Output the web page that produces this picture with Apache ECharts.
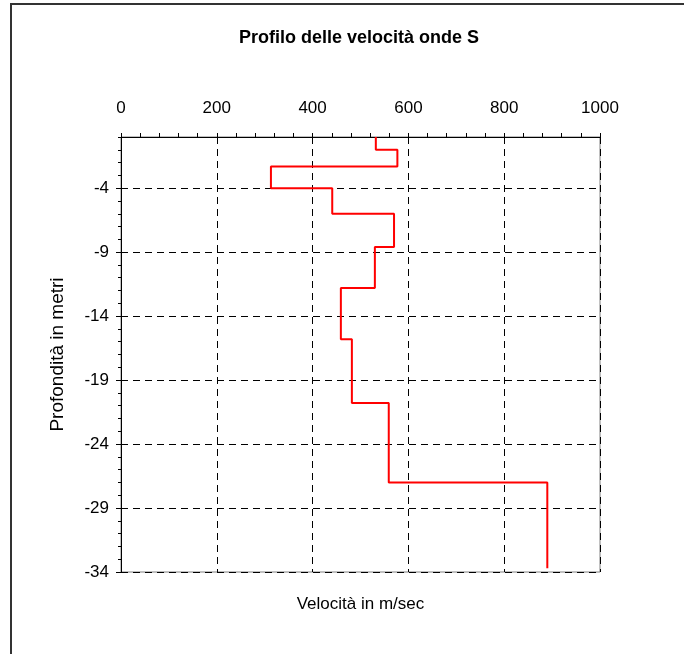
<!DOCTYPE html>
<html>
<head>
<meta charset="utf-8">
<script src="https://cdn.jsdelivr.net/npm/echarts@6/dist/echarts.min.js"></script>
<style>
  html, body { margin: 0; padding: 0; background: #fff; }
  #main { width: 684px; height: 654px; }
</style>
</head>
<body>
<div id="main"></div>
<script>
var myChart = echarts.init(document.getElementById('main'));

// layer tops (m, negative = depth) and S-wave velocity of each layer (m/s)
var layerTop = [0, -1, -2.3, -4, -6, -8.6, -11.8, -15.8, -20.8, -27];
var layerBottomLast = -33.7;
var velocity = [532, 577, 313, 441, 570, 530, 459, 482, 559, 890];

var xTicks = [0, 200, 400, 600, 800, 1000];
var yTicks = [-34, -29, -24, -19, -14, -9, -4];

// step profile points built from the layers
var profile = [];
for (var i = 0; i < velocity.length; i++) {
    var bottom = i + 1 < layerTop.length ? layerTop[i + 1] : layerBottomLast;
    profile.push([velocity[i], layerTop[i]]);
    profile.push([velocity[i], bottom]);
}

var font = 'Liberation Sans, Arial, sans-serif';
var dash = [7, 5];

option = {
    animation: false,
    backgroundColor: '#fff',
    title: {
        text: 'Profilo delle velocità onde S',
        left: 354,
        top: 24,
        textAlign: 'center',
        textStyle: {
            fontFamily: font,
            fontSize: 18,
            fontWeight: 'bold',
            color: '#000'
        }
    },
    graphic: [{
        type: 'rect',
        shape: { x: 11, y: 4, width: 900, height: 900 },
        style: { fill: 'none', stroke: '#333', lineWidth: 2 },
        silent: true
    }],
    grid: {
        left: 121,
        right: 84,
        top: 137,
        bottom: 82,
        show: true,
        borderColor: '#808080',
        borderWidth: 1,
        backgroundColor: 'transparent'
    },
    xAxis: [{
        type: 'value',
        position: 'top',
        min: xTicks[0],
        max: xTicks[xTicks.length - 1],
        interval: 200,
        axisLine: { lineStyle: { color: '#000', width: 1 } },
        axisTick: { show: true, length: 4, lineStyle: { color: '#000' } },
        minorTick: { show: true, splitNumber: 5, length: 4, lineStyle: { color: '#000' } },
        axisLabel: {
            margin: 20,
            fontFamily: font,
            fontSize: 17,
            color: '#000',
            formatter: function (v) { return String(v); }
        },
        splitLine: { show: true, lineStyle: { color: '#000', type: dash, width: 1 } }
    }, {
        type: 'value',
        position: 'bottom',
        min: 0,
        max: 1000,
        name: 'Velocità in m/sec',
        nameLocation: 'middle',
        nameGap: 24,
        nameTextStyle: { fontFamily: font, fontSize: 17, color: '#000' },
        axisLine: { show: false },
        axisTick: { show: false },
        axisLabel: { show: false },
        splitLine: { show: false }
    }],
    yAxis: [{
        type: 'value',
        min: yTicks[0],
        max: 0,
        interval: 5,
        name: 'Profondità in metri',
        nameLocation: 'middle',
        nameRotate: 90,
        nameGap: 54,
        nameTextStyle: { fontFamily: font, fontSize: 19, color: '#000' },
        axisLine: { show: true, lineStyle: { color: '#000', width: 1 } },
        axisTick: { show: true, length: 5, lineStyle: { color: '#000' } },
        axisLabel: {
            margin: 12,
            showMaxLabel: false,
            fontFamily: font,
            fontSize: 17,
            color: '#000'
        },
        splitLine: { show: true, lineStyle: { color: '#000', type: dash, width: 1 } }
    }, {
        // minor ticks every metre
        type: 'value',
        position: 'left',
        min: yTicks[0],
        max: 0,
        interval: 1,
        axisLine: { show: false },
        axisTick: { show: true, length: 3, lineStyle: { color: '#000' } },
        axisLabel: { show: false },
        splitLine: { show: false }
    }],
    series: [{
        name: 'Vs',
        type: 'line',
        xAxisIndex: 0,
        yAxisIndex: 0,
        data: profile,
        symbol: 'none',
        lineStyle: { color: '#ff0000', width: 2 },
        z: 5
    }]
};

myChart.setOption(option);
</script>
</body>
</html>
